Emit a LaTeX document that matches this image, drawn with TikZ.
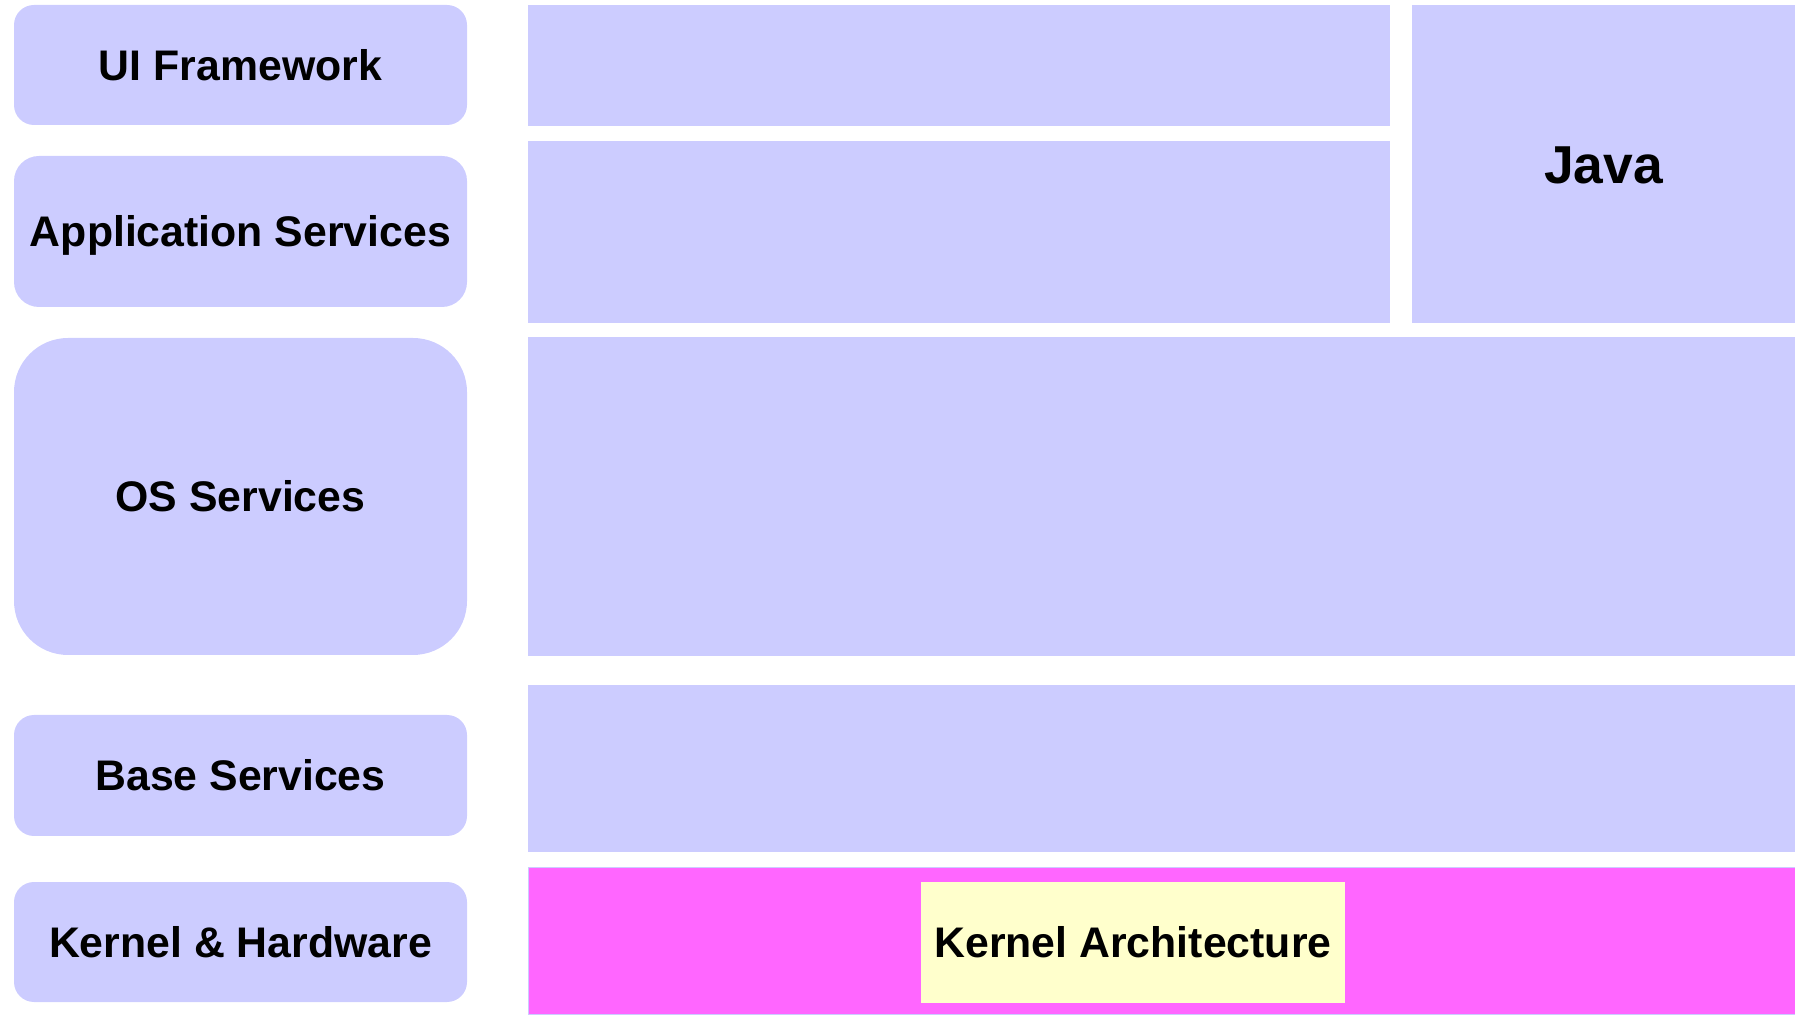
\documentclass[tikz,border=0pt]{standalone}
\usepackage{fontspec}
\setmainfont{Liberation Sans}
\usepackage{xcolor}
\usepackage{tikz}
\usetikzlibrary{positioning}
\definecolor{lavender}{RGB}{204, 204, 255}
\definecolor{kernpink}{RGB}{255, 102, 255}
\definecolor{paleyellow}{RGB}{255, 255, 204}

\begin{document}
\begin{tikzpicture}[
    x=0.5pt, y=-0.5pt,
    layer/.style={rectangle, fill=lavender, minimum width=226.5pt, inner sep=0pt, outer sep=0pt, text height=15.3pt, text depth=0pt, align=center, font=\fontsize{21.4}{25}\selectfont\bfseries},
    block/.style={rectangle, fill=lavender, inner sep=0pt, outer sep=0pt, text height=15.3pt, text depth=0pt, align=center, font=\fontsize{21.4}{25}\selectfont\bfseries}
]
\useasboundingbox (0,0) rectangle (1795,1015);
% Layer labels (left column)
\node[layer, rounded corners=10pt,   minimum height=60pt]    at (240.5,65)    (ui)   {UI Framework};
\node[layer, rounded corners=12.5pt, minimum height=75.5pt]  at (240.5,231.5) (app)  {Application Services};
\node[layer, rounded corners=27pt,   minimum height=158.5pt] at (240.5,496.5) (os)   {OS Services};
\node[layer, rounded corners=10pt,   minimum height=60.5pt]  at (240.5,775.5) (base) {Base Services};
\node[layer, rounded corners=10pt,   minimum height=60pt]    at (240.5,942)   (kern) {Kernel \& Hardware};
% Blocks (right side)
\node[block, minimum width=431pt, minimum height=60.5pt] at (959,65.5) (uiblk)   {};
\node[block, minimum width=431pt, minimum height=91pt]   at (959,232)  (appblk)  {};
\node[block, minimum width=191.5pt, minimum height=159pt, text height=19.1pt, font=\fontsize{26.7}{30}\selectfont\bfseries] at (1603.5,164) (java) {Java};
\node[block, minimum width=633.5pt, minimum height=159.5pt] at (1161.5,496.5) (osblk)   {};
\node[block, minimum width=633.5pt, minimum height=83.5pt]  at (1161.5,768.5) (baseblk) {};
\node[block, fill=kernpink, draw=lavender, line width=0.5pt, minimum width=633.5pt, minimum height=73.5pt] at (1161.5,940.5) (kernblk) {};
\node[block, fill=paleyellow, minimum width=212pt, minimum height=60.5pt] at (1133,942.5) (arch) {Kernel Architecture};
\end{tikzpicture}
\end{document}
